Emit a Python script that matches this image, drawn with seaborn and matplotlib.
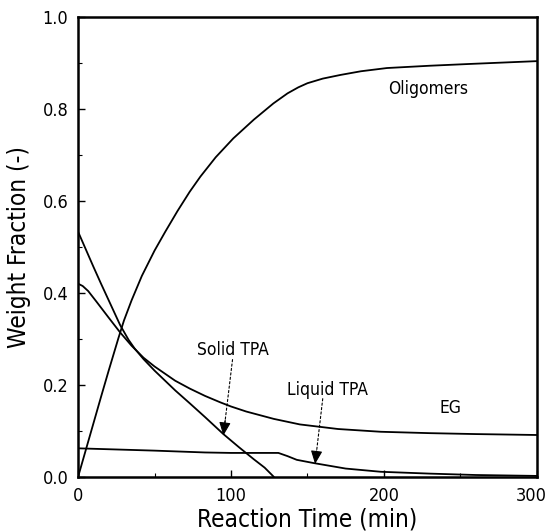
import matplotlib
matplotlib.use("Agg")
import matplotlib.pyplot as plt
from matplotlib import font_manager
from matplotlib.ticker import MultipleLocator
from matplotlib.transforms import ScaledTranslation
import seaborn as sns
import pandas as pd

# Weight fraction profiles during TPA/EG esterification
olig_t = [0, 5, 10, 15, 20, 26.4, 30, 35, 41.7, 50, 57, 65, 73, 80, 90, 101.5, 115, 127.7, 137, 144, 150, 160, 171.6, 185, 202, 230, 257, 300]
olig_w = [0, 0.058, 0.116, 0.174, 0.231, 0.302, 0.340, 0.384, 0.437, 0.492, 0.533, 0.578, 0.620, 0.653, 0.695, 0.736, 0.777, 0.812, 0.834, 0.847, 0.856, 0.866, 0.874, 0.882, 0.889, 0.894, 0.898, 0.904]

solid_t = [0, 5, 10, 15, 20, 27.5, 33, 37, 42.8, 50, 63.5, 73, 83, 95, 105, 115, 122, 128]
solid_w = [0.533, 0.495, 0.457, 0.420, 0.384, 0.330, 0.298, 0.279, 0.256, 0.231, 0.188, 0.160, 0.130, 0.093, 0.065, 0.038, 0.020, 0.0]

eg_t = [0, 3, 6.6, 12, 19.8, 27.5, 35, 42.8, 50, 63.5, 73, 83, 93, 100, 110, 128, 145, 170, 198, 230, 260, 300]
eg_w = [0.42, 0.415, 0.404, 0.381, 0.347, 0.314, 0.285, 0.259, 0.240, 0.209, 0.192, 0.176, 0.162, 0.153, 0.142, 0.126, 0.114, 0.104, 0.098, 0.095, 0.093, 0.091]

liq_t = [0, 50, 83, 100, 131, 137, 143, 154, 175, 198, 230, 260, 300]
liq_w = [0.062, 0.057, 0.053, 0.052, 0.052, 0.045, 0.037, 0.030, 0.018, 0.011, 0.007, 0.004, 0.002]

x_ticks = [0, 100, 200, 300]
y_ticks = [0.0, 0.2, 0.4, 0.6, 0.8, 1.0]

sns.set_style("ticks")

# prefer a condensed sans face when one is installed
families = ["DejaVu Sans"]
stretch = "normal"
for f in font_manager.fontManager.ttflist:
    fn = f.fname.lower()
    if "narrow" in fn and "liberation" in fn:
        families = [f.name, "DejaVu Sans"]
        break
else:
    if any("dejavusanscondensed" in f.fname.lower().replace("-", "") for f in font_manager.fontManager.ttflist):
        stretch = "condensed"
plt.rcParams["font.family"] = families
plt.rcParams["font.stretch"] = stretch
for key in ["text.color", "axes.labelcolor", "xtick.color", "ytick.color", "axes.edgecolor"]:
    plt.rcParams[key] = "black"

fig = plt.figure(figsize=(5.5, 5.31), dpi=100)
ax = fig.add_axes([0.142, 0.102, 0.834, 0.866])

series = [(olig_t, olig_w), (solid_t, solid_w), (eg_t, eg_w), (liq_t, liq_w)]
for t, w in series:
    df = pd.DataFrame({"t": t, "w": w})
    sns.lineplot(data=df, x="t", y="w", ax=ax, color="black", lw=1.3, sort=False)

ax.set_xlim(0, 300)
ax.set_ylim(0, 1.0)
ax.set_xticks(x_ticks)
ax.set_xticklabels([str(v) for v in x_ticks])
ax.set_yticks(y_ticks)
ax.set_yticklabels([f"{v:.1f}" for v in y_ticks])
ax.xaxis.set_minor_locator(MultipleLocator(50))
ax.yaxis.set_minor_locator(MultipleLocator(0.1))
ax.tick_params(which="major", direction="in", length=5, width=1, labelsize=13, pad=7)
ax.tick_params(which="minor", direction="in", length=3, width=0.8)
for s in ax.spines.values():
    s.set_visible(True)
    s.set_linewidth(1.8)
    s.set_color("black")

# nudge the last x tick label inside the canvas
last = ax.get_xticklabels()[-1]
last.set_transform(last.get_transform() + ScaledTranslation(-4 / 72, 0, fig.dpi_scale_trans))

ax.set_xlabel("Reaction Time (min)", fontsize=17.5, labelpad=2)
ax.set_ylabel("Weight Fraction (-)", fontsize=17.5, labelpad=8)

ax.text(229, 0.843, "Oligomers", fontsize=12.5, ha="center", va="center")
ax.text(243.6, 0.150, "EG", fontsize=12.5, ha="center", va="center")
ax.text(101, 0.276, "Solid TPA", fontsize=12.5, ha="center", va="center")
ax.text(163, 0.189, "Liquid TPA", fontsize=12.5, ha="center", va="center")

# dashed leader lines with solid heads
for start, tip in [((101, 0.255), (95, 0.090)), ((160, 0.170), (155, 0.028))]:
    ax.annotate("", xy=tip, xytext=start,
                arrowprops=dict(arrowstyle="-", ls=(0, (2, 2)), lw=0.8, color="black",
                                shrinkA=0, shrinkB=8))
    ax.annotate("", xy=tip, xytext=(tip[0] + (start[0] - tip[0]) * 0.2, tip[1] + (start[1] - tip[1]) * 0.2),
                arrowprops=dict(arrowstyle="-|>,head_length=0.8,head_width=0.35", lw=0.8,
                                color="black", shrinkA=0, shrinkB=0))

fig.savefig("out.png", dpi=100)
